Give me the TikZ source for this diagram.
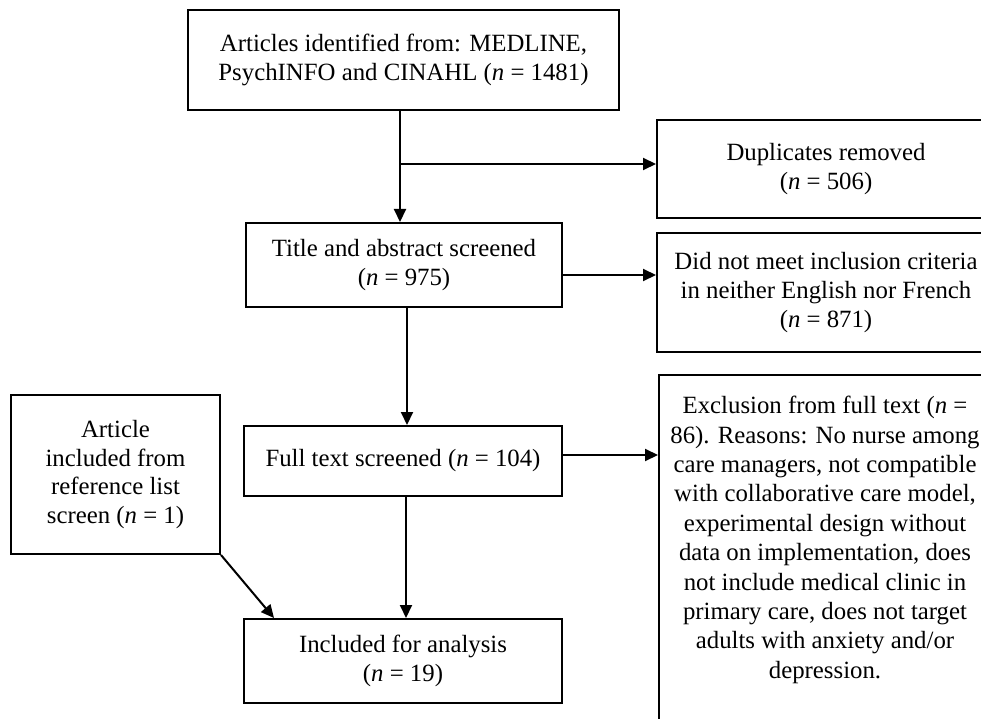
\documentclass[tikz,border=0pt]{standalone}
\usepackage{fontspec}
\setmainfont{Liberation Serif}
\usetikzlibrary{arrows.meta,calc}
\begin{document}
\begin{tikzpicture}[x=1pt,y=-1pt,
  box/.style={draw, line width=2pt, align=center, font=\fontsize{24.8}{28.8}\selectfont, inner sep=0pt},
  txt/.style={align=center, font=\fontsize{24.8}{29.4}\selectfont, inner sep=0pt},
  arr/.style={line width=2pt, -{Triangle[length=13pt,width=12pt]}}]
\useasboundingbox (0,0) rectangle (981,719);
\clip (0,0) rectangle (981,719);
\node[box, minimum width=431pt, minimum height=100pt] (top) at (403.5,60)
  {Articles identified from: MEDLINE,\\PsychINFO and CINAHL (\textit{n} = 1481)};
\node[box, minimum width=338pt, minimum height=98pt] (dup) at (826,169)
  {Duplicates removed\\(\textit{n} = 506)};
\node[box, minimum width=316pt, minimum height=84pt] (title) at (404,265)
  {Title and abstract screened\\(\textit{n} = 975)};
\node[box, minimum width=338pt, minimum height=119pt] (dnm) at (826,292.5)
  {Did not meet inclusion criteria\\in neither English nor French\\(\textit{n} = 871)};
\node[box, minimum width=318pt, minimum height=70pt] (ft) at (403,461)
  {Full text screened (\textit{n} = 104)};
\node[box, minimum width=209pt, minimum height=159pt] (art) at (115.5,474.5)
  {Article\\included from\\reference list\\screen (\textit{n} = 1)};
\node[box, minimum width=318pt, minimum height=84pt] (inc) at (403,661)
  {Included for analysis\\(\textit{n} = 19)};
\node[draw, line width=2pt, minimum width=338pt, minimum height=400pt, anchor=north west, inner sep=0pt] (excl) at (658,374) {};
\node[txt] (excltext) at (825,540)
  {Exclusion from full text (\textit{n} =\\86). Reasons: No nurse among\\care managers, not compatible\\with collaborative care model,\\experimental design without\\data on implementation, does\\not include medical clinic in\\primary care, does not target\\adults with anxiety and/or\\depression.};
\coordinate (tops) at ([xshift=-3.5pt]top.south);
\coordinate (br) at ($(tops)+(0,53)$);
\draw[arr] (tops) -- (tops |- title.north);
\draw[arr] (br) -- (br -| dup.west);
\draw[arr] ([yshift=-10pt]title.east) -- ([yshift=-10pt]title.east -| dnm.west);
\draw[arr] ([xshift=3pt]title.south) -- ([xshift=3pt]title.south |- ft.north);
\draw[arr] ([yshift=6pt]ft.east) -- ([yshift=6pt]ft.east -| excl.west);
\draw[arr] ([xshift=3pt]ft.south) -- ([xshift=3pt]ft.south |- inc.north);
\draw[arr] (art.south east) -- ([xshift=31pt]inc.north west);
\end{tikzpicture}
\end{document}
